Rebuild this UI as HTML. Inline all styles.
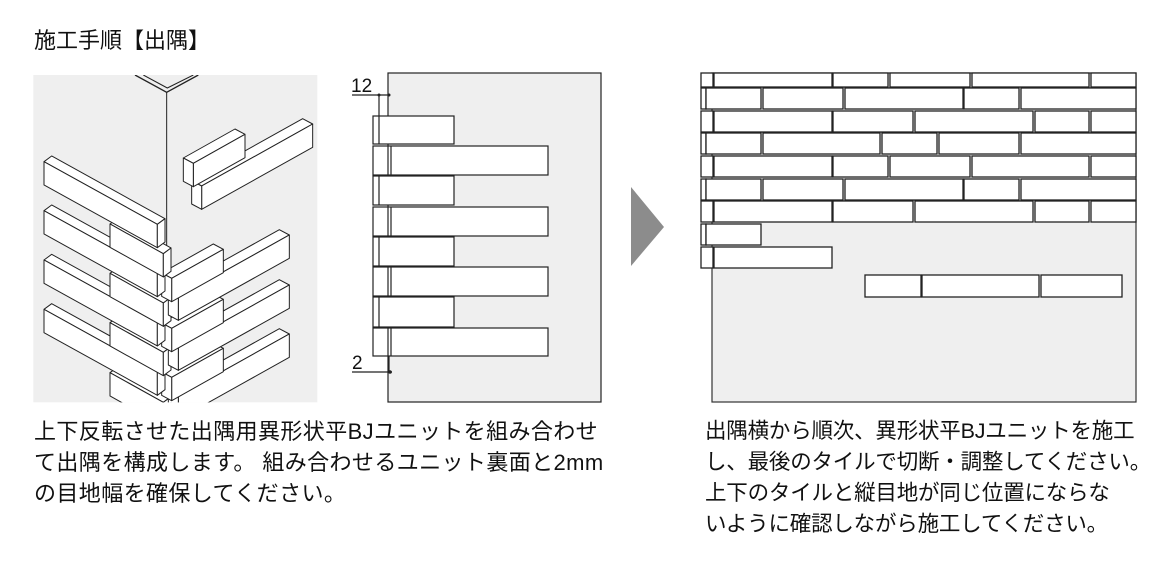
<!DOCTYPE html>
<html><head><meta charset="utf-8"><style>
body{margin:0;background:#fff;width:1160px;height:563px;overflow:hidden;position:relative;font-family:"Liberation Sans","Noto Sans CJK JP",sans-serif;color:#111}
.t{position:absolute;white-space:nowrap}
</style></head><body>
<div class="t" style="left:34px;top:28px;font-size:22px;line-height:26px">施工手順【出隅】</div>
<div class="t" style="left:34px;top:416px;font-size:22px;line-height:31px;letter-spacing:0.4px">上下反転させた出隅用異形状平BJユニットを組み合わせ<br>て出隅を構成します。 組み合わせるユニット裏面と2mm<br>の目地幅を確保してください。</div>
<div class="t" style="left:705px;top:416px;font-size:21.5px;line-height:31px;letter-spacing:-0.2px">出隅横から順次、異形状平BJユニットを施工<br>し、最後のタイルで切断・調整してください。<br>上下のタイルと縦目地が同じ位置にならな<br>いように確認しながら施工してください。</div>
<svg width="1160" height="563" style="position:absolute;left:0;top:0">
<defs>
<g id="LL"><polygon points="0,0 23,-17 363,171 340,188"/><polygon points="0,0 340,188 340,258 0,70"/><polygon points="340,188 363,171 363,241 340,258"/></g>
<g id="LS"><polygon points="0,0 23,-17 183,72 160,89"/><polygon points="0,0 160,89 160,159 0,70"/><polygon points="160,89 183,72 183,142 160,159"/></g>
<g id="RL"><polygon points="0,0 333,-186 303,-202 -30,-16"/><polygon points="0,0 333,-186 333,-116 0,70"/><polygon points="0,0 -30,-16 -30,54 0,70"/></g>
<g id="RS"><polygon points="0,0 155,-87 125,-103 -30,-16"/><polygon points="0,0 155,-87 155,-17 0,70"/><polygon points="0,0 -30,-16 -30,54 0,70"/></g>
<clipPath id="cp"><rect x="10" y="45" width="852" height="982"/></clipPath>
</defs>
<g transform="translate(30,60) scale(0.33333)">
<rect x="10" y="45" width="852" height="982" fill="#efefef"/>
<g clip-path="url(#cp)" fill="#fff" stroke="#222" stroke-width="3" stroke-linejoin="round">
<polyline points="315,45 410,97 505,45" fill="none" stroke-width="4"/>
<polyline points="340,45 412,84 490,45" fill="none"/>
<line x1="410" y1="97" x2="410" y2="560"/>
<use href="#LS" x="240" y="938"/>
<use href="#RL" x="445" y="1008"/><use href="#RS" x="425" y="952"/>
<use href="#LL" x="42" y="748"/><use href="#LS" x="240" y="788"/>
<use href="#RL" x="445" y="861"/><use href="#RS" x="425" y="805"/>
<use href="#LL" x="42" y="600"/><use href="#LS" x="240" y="640"/>
<use href="#RL" x="445" y="711"/><use href="#RS" x="425" y="655"/>
<use href="#LL" x="42" y="452"/><use href="#LS" x="240" y="492"/>
<use href="#LL" x="42" y="305"/>
<use href="#RL" x="515" y="378"/><use href="#RS" x="490" y="310"/>
</g></g>
<g stroke="#222" stroke-width="1.2" fill="#fff">
<rect x="388" y="73" width="213" height="329" fill="#efefef"/>
<line x1="379" y1="95" x2="379" y2="116"/>
<line x1="352" y1="95" x2="389" y2="95"/>
<rect x="373" y="116" width="81" height="28"/><line x1="379" y1="116" x2="379" y2="144"/>
<rect x="373" y="146" width="175" height="29"/><line x1="388" y1="146" x2="388" y2="175"/><line x1="391" y1="146" x2="391" y2="175"/>
<rect x="373" y="176" width="81" height="29"/><line x1="379" y1="176" x2="379" y2="205"/>
<rect x="373" y="207" width="175" height="29"/><line x1="388" y1="207" x2="388" y2="236"/><line x1="391" y1="207" x2="391" y2="236"/>
<rect x="373" y="237" width="81" height="29"/><line x1="379" y1="237" x2="379" y2="266"/>
<rect x="373" y="267" width="175" height="29"/><line x1="388" y1="267" x2="388" y2="296"/><line x1="391" y1="267" x2="391" y2="296"/>
<rect x="373" y="297" width="81" height="30"/><line x1="379" y1="297" x2="379" y2="327"/>
<rect x="373" y="328" width="175" height="28"/><line x1="388" y1="328" x2="388" y2="356"/><line x1="391" y1="328" x2="391" y2="356"/>
<line x1="389" y1="356" x2="389" y2="372"/>
<line x1="352" y1="372" x2="392" y2="372"/>
</g>
<circle cx="379" cy="95" r="1.5" fill="#222"/><circle cx="389" cy="95" r="1.5" fill="#222"/><circle cx="390" cy="372" r="1.8" fill="#222"/>
<text x="351" y="92" font-size="19" font-family="Liberation Sans" fill="#111">12</text>
<text x="352" y="369" font-size="19" font-family="Liberation Sans" fill="#111">2</text>
<polygon points="631,187 664,227 631,266" fill="#8c8c8c"/>
<rect x="712" y="73" width="424" height="329" fill="#efefef" stroke="#333" stroke-width="1.2"/>
<g fill="#fff" stroke="#222" stroke-width="1.3">
<rect x="701" y="73" width="12" height="14"/><rect x="714" y="73" width="118" height="14"/><rect x="833" y="73" width="55" height="14"/><rect x="890" y="73" width="80" height="14"/><rect x="972" y="73" width="117" height="14"/><rect x="1091" y="73" width="45" height="14"/>
<rect x="701" y="88" width="5" height="21"/><rect x="706" y="88" width="55" height="21"/><rect x="763" y="88" width="80" height="21"/><rect x="845" y="88" width="118" height="21"/><rect x="964" y="88" width="55" height="21"/><rect x="1021" y="88" width="115" height="21"/>
<rect x="701" y="111" width="12" height="21"/><rect x="714" y="111" width="118" height="21"/><rect x="833" y="111" width="80" height="21"/><rect x="915" y="111" width="118" height="21"/><rect x="1035" y="111" width="54" height="21"/><rect x="1091" y="111" width="45" height="21"/>
<rect x="701" y="133" width="5" height="21"/><rect x="706" y="133" width="55" height="21"/><rect x="763" y="133" width="117" height="21"/><rect x="882" y="133" width="55" height="21"/><rect x="939" y="133" width="80" height="21"/><rect x="1021" y="133" width="115" height="21"/>
<rect x="701" y="156" width="12" height="21"/><rect x="714" y="156" width="118" height="21"/><rect x="833" y="156" width="55" height="21"/><rect x="890" y="156" width="80" height="21"/><rect x="972" y="156" width="117" height="21"/><rect x="1091" y="156" width="45" height="21"/>
<rect x="701" y="179" width="5" height="21"/><rect x="706" y="179" width="55" height="21"/><rect x="763" y="179" width="80" height="21"/><rect x="845" y="179" width="118" height="21"/><rect x="964" y="179" width="55" height="21"/><rect x="1021" y="179" width="115" height="21"/>
<rect x="701" y="201" width="12" height="21"/><rect x="714" y="201" width="118" height="21"/><rect x="833" y="201" width="80" height="21"/><rect x="915" y="201" width="118" height="21"/><rect x="1035" y="201" width="54" height="21"/><rect x="1091" y="201" width="45" height="21"/>
<rect x="701" y="224" width="5" height="21"/><rect x="706" y="224" width="55" height="21"/>
<rect x="701" y="247" width="12" height="21"/><rect x="714" y="247" width="118" height="21"/>
<rect x="865" y="275" width="56" height="22"/><rect x="922" y="275" width="117" height="22"/><rect x="1041" y="275" width="81" height="22"/>
</g>
</svg>
</body></html>
